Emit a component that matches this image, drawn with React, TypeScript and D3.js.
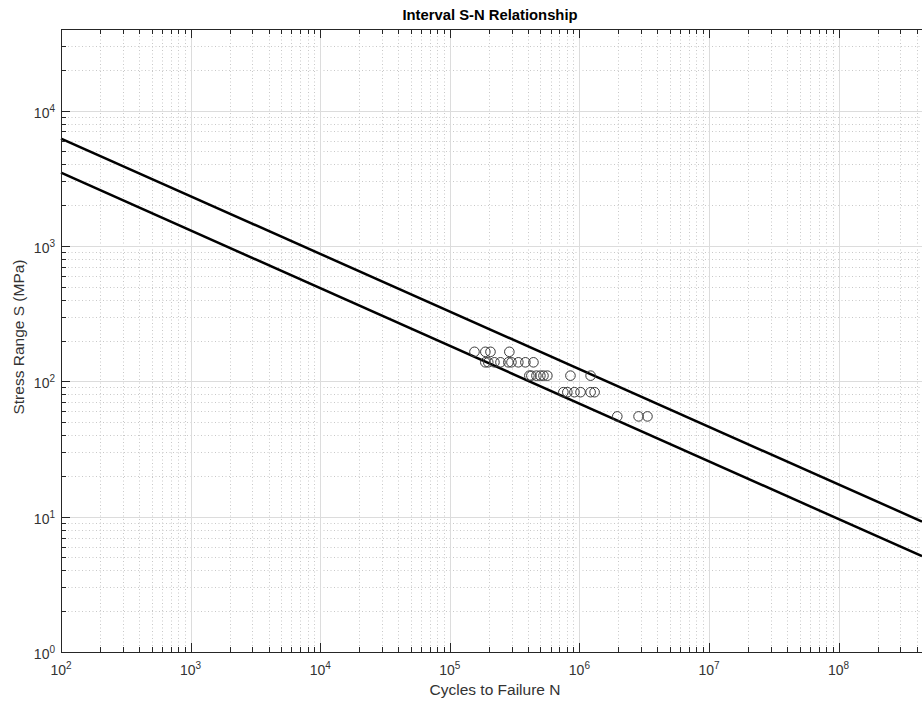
import * as d3 from "d3";

// S-N data
const cyclesN = [
  1.55e5, 1.88e5, 2.06e5, 2.88e5,
  1.88e5, 1.98e5, 2.21e5, 2.46e5, 2.83e5, 2.99e5, 3.38e5, 3.83e5, 4.42e5,
  4.11e5, 4.26e5, 4.66e5, 5.0e5, 5.28e5, 5.66e5, 8.53e5, 1.22e6,
  7.52e5, 8.07e5, 9.15e5, 1.02e6, 1.22e6, 1.31e6,
  1.96e6, 2.86e6, 3.35e6,
];
const stressS = [
  165, 165, 165, 165,
  138, 138, 138, 138, 138, 138, 138, 138, 138,
  110, 110, 110, 110, 110, 110, 110, 110,
  83, 83, 83, 83, 83, 83,
  55, 55, 55,
];
const lineN = [1e2, 4.4e8];
const upperS = [6200, 9.2];
const lowerS = [3470, 5.1];
const xDecades = [2, 3, 4, 5, 6, 7, 8];
const yDecades = [0, 1, 2, 3, 4];

const W = 922;
const H = 704;
const margin = { left: 61, top: 29, right: 922, bottom: 652 };

export default function App() {
  const x = d3.scaleLog().domain([1e2, 4.4e8]).range([margin.left, margin.right]);
  const y = d3.scaleLog().domain([1, 4e4]).range([margin.bottom, margin.top]);

  const xMinor: number[] = [];
  for (let e = 2; e <= 8; e++) for (let k = 2; k <= 9; k++) {
    const v = k * Math.pow(10, e);
    if (v <= 4.4e8) xMinor.push(v);
  }
  const yMinor: number[] = [];
  for (let e = 0; e <= 4; e++) for (let k = 2; k <= 9; k++) {
    const v = k * Math.pow(10, e);
    if (v <= 4e4) yMinor.push(v);
  }

  const mkLine = (s: number[]) =>
    d3.line<[number, number]>().x((d) => x(d[0])).y((d) => y(d[1]))(lineN.map((n, i) => [n, s[i]]) as [number, number][]);

  const axisColor = "#262626";
  const font = "'Liberation Sans', Arial, Helvetica, sans-serif";

  return (
    <svg width={W} height={H} style={{ position: "absolute", left: 0, top: 0, background: "#fff" }} fontFamily={font}>
      <rect x={margin.left} y={margin.top} width={margin.right - margin.left} height={margin.bottom - margin.top} fill="#fff" />
      {/* minor grid */}
      <g stroke="#c8c8c8" strokeWidth={1} strokeDasharray="1,2.5">
        {xMinor.map((v) => (
          <line key={"xm" + v} x1={Math.round(x(v)) + 0.5} x2={Math.round(x(v)) + 0.5} y1={margin.top} y2={margin.bottom} />
        ))}
        {yMinor.map((v) => (
          <line key={"ym" + v} y1={Math.round(y(v)) + 0.5} y2={Math.round(y(v)) + 0.5} x1={margin.left} x2={margin.right} />
        ))}
      </g>
      {/* major grid */}
      <g stroke="#dcdcdc" strokeWidth={1}>
        {xDecades.map((e) => (
          <line key={"xg" + e} x1={Math.round(x(10 ** e)) + 0.5} x2={Math.round(x(10 ** e)) + 0.5} y1={margin.top} y2={margin.bottom} />
        ))}
        {yDecades.map((e) => (
          <line key={"yg" + e} y1={Math.round(y(10 ** e)) + 0.5} y2={Math.round(y(10 ** e)) + 0.5} x1={margin.left} x2={margin.right} />
        ))}
      </g>
      {/* S-N lines */}
      <path d={mkLine(upperS) || ""} fill="none" stroke="#000" strokeWidth={2.5} />
      <path d={mkLine(lowerS) || ""} fill="none" stroke="#000" strokeWidth={2.5} />
      {/* data points */}
      <g fill="none" stroke="#3a3a3a" strokeWidth={1}>
        {cyclesN.map((n, i) => (
          <circle key={i} cx={x(n)} cy={y(stressS[i])} r={4.8} />
        ))}
      </g>
      {/* ticks */}
      <g stroke={axisColor} strokeWidth={1}>
        {xDecades.map((e) => {
          const px = Math.round(x(10 ** e)) + 0.5;
          return (
            <g key={"xt" + e}>
              <line x1={px} x2={px} y1={margin.bottom} y2={margin.bottom - 9} />
              <line x1={px} x2={px} y1={margin.top} y2={margin.top + 9} />
            </g>
          );
        })}
        {xMinor.map((v) => {
          const px = Math.round(x(v)) + 0.5;
          return (
            <g key={"xmt" + v}>
              <line x1={px} x2={px} y1={margin.bottom} y2={margin.bottom - 5} />
              <line x1={px} x2={px} y1={margin.top} y2={margin.top + 5} />
            </g>
          );
        })}
        {yDecades.map((e) => {
          const py = Math.round(y(10 ** e)) + 0.5;
          return <line key={"yt" + e} x1={margin.left} x2={margin.left + 9} y1={py} y2={py} />;
        })}
        {yMinor.map((v) => {
          const py = Math.round(y(v)) + 0.5;
          return <line key={"ymt" + v} x1={margin.left} x2={margin.left + 5} y1={py} y2={py} />;
        })}
      </g>
      {/* frame */}
      <g stroke={axisColor} strokeWidth={1} fill="none">
        <line x1={margin.left + 0.5} x2={margin.left + 0.5} y1={margin.top} y2={margin.bottom + 0.5} />
        <line x1={margin.left} x2={margin.right} y1={margin.bottom + 0.5} y2={margin.bottom + 0.5} />
        <line x1={margin.left} x2={margin.right} y1={margin.top + 0.5} y2={margin.top + 0.5} />
      </g>
      {/* tick labels */}
      <g fill="#333" fontSize={14}>
        {xDecades.map((e) => (
          <text key={"xl" + e} x={x(10 ** e)} y={675} textAnchor="middle">
            10<tspan fontSize={10} dy={-6}>{e}</tspan>
          </text>
        ))}
        {yDecades.map((e) => (
          <text key={"yl" + e} x={55} y={y(10 ** e) + 7} textAnchor="end">
            10<tspan fontSize={10} dy={-6}>{e}</tspan>
          </text>
        ))}
      </g>
      {/* axis labels */}
      <text x={495} y={695} textAnchor="middle" fontSize={15.5} fill="#333">
        Cycles to Failure N
      </text>
      <text transform={`translate(24,337) rotate(-90)`} textAnchor="middle" fontSize={15.5} fill="#333">
        Stress Range S (MPa)
      </text>
      <text x={490} y={20} textAnchor="middle" fontSize={14.8} fontWeight="bold" fill="#000">
        Interval S-N Relationship
      </text>
    </svg>
  );
}
